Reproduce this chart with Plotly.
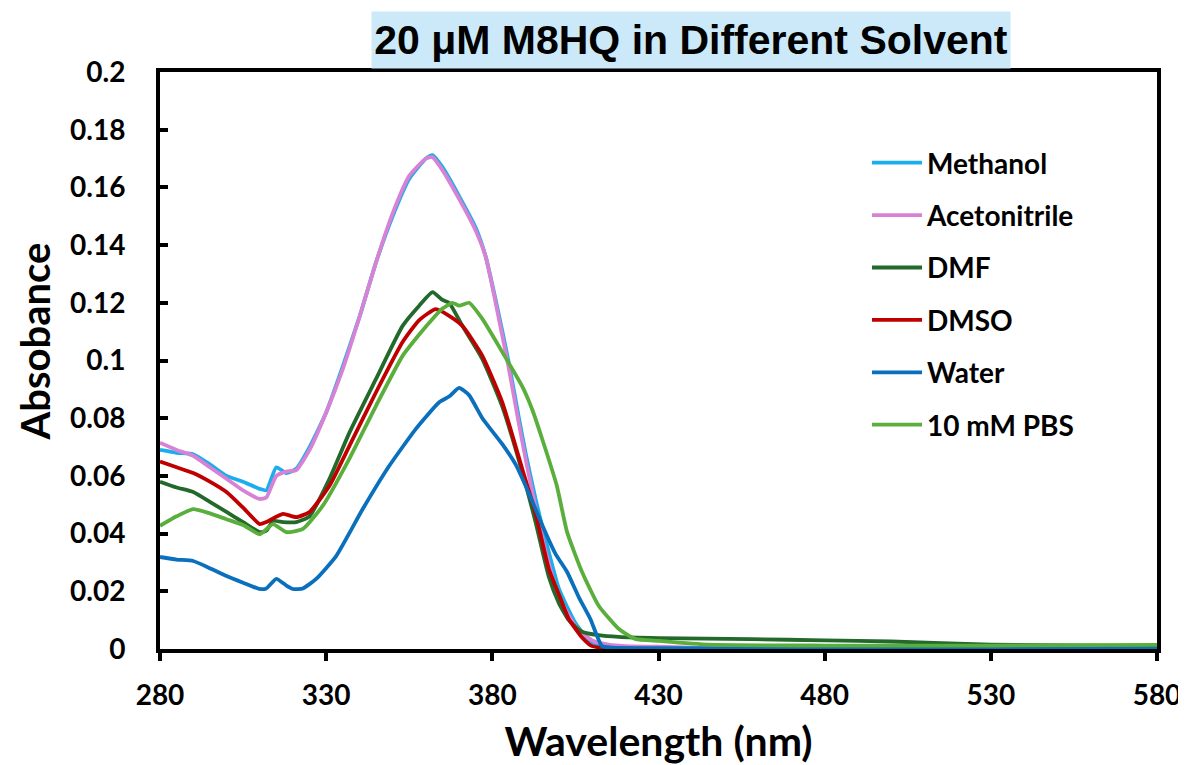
import plotly.graph_objects as go

# ---------------- data ----------------
series_names = ["Methanol", "Acetonitrile", "DMF", "DMSO", "Water", "10 mM PBS"]
series_colors = ["#1CAEEA", "#D882D6", "#23692C", "#C00000", "#0A70BE", "#5AAE3C"]

methanol_nm = [280, 285, 290, 295, 300, 305, 310, 312, 315, 318, 321, 325, 330, 335, 340, 345, 350,
               355, 360, 362, 365, 370, 375, 378, 381, 385, 388, 390, 393, 396, 400, 405, 410, 415, 430, 580]
methanol_abs = [0.069, 0.068, 0.0675, 0.064, 0.060, 0.058, 0.0555, 0.055, 0.063, 0.061, 0.0625, 0.070,
                0.082, 0.098, 0.115, 0.134, 0.150, 0.163, 0.170, 0.1712, 0.167, 0.157, 0.146, 0.136,
                0.121, 0.099, 0.080, 0.068, 0.052, 0.038, 0.021, 0.009, 0.002, 0.0005, 0.0002, 0.0]

acetonitrile_nm = [280, 285, 290, 295, 300, 305, 310, 312, 315, 318, 321, 325, 330, 335, 340, 345, 350,
                   355, 360, 362, 365, 370, 375, 378, 381, 385, 388, 390, 393, 396, 400, 405, 410, 415,
                   420, 430, 440, 450, 580]
acetonitrile_abs = [0.0715, 0.069, 0.067, 0.063, 0.059, 0.055, 0.052, 0.0525, 0.060, 0.0615, 0.062,
                    0.069, 0.082, 0.097, 0.115, 0.134, 0.151, 0.164, 0.170, 0.1705, 0.166, 0.156,
                    0.145, 0.136, 0.120, 0.097, 0.078, 0.066, 0.049, 0.034, 0.018, 0.008, 0.003,
                    0.0015, 0.001, 0.0008, 0.0005, 0.0002, 0.0]

dmf_nm = [280, 285, 290, 295, 300, 305, 310, 312, 314, 317, 321, 325, 331, 337, 345, 353, 358, 362,
          365, 367, 371, 377, 383, 389, 393, 397, 400, 403, 407, 412, 418, 430, 458, 480, 500, 530,
          560, 580]
dmf_abs = [0.058, 0.056, 0.0544, 0.051, 0.0475, 0.044, 0.0405, 0.041, 0.0444, 0.044, 0.044, 0.046,
           0.059, 0.075, 0.0936, 0.112, 0.119, 0.1237, 0.121, 0.120, 0.112, 0.1005, 0.084, 0.0613,
           0.044, 0.025, 0.016, 0.010, 0.006, 0.0048, 0.0042, 0.0038, 0.0034, 0.003, 0.0026,
           0.0015, 0.0012, 0.001]

dmso_nm = [280, 285, 290, 295, 300, 305, 310, 312, 317, 321, 325, 331, 337, 345, 353, 358, 363, 367,
           371, 377, 383, 389, 393, 397, 400, 403, 407, 410, 415, 580]
dmso_abs = [0.065, 0.063, 0.061, 0.058, 0.0544, 0.049, 0.0433, 0.044, 0.0468, 0.0457, 0.0475, 0.0566,
            0.0704, 0.089, 0.1064, 0.114, 0.1178, 0.1155, 0.112, 0.1016, 0.0855, 0.0624, 0.047,
            0.0277, 0.019, 0.0104, 0.004, 0.001, 0.0003, 0.0]

water_nm = [280, 285, 290, 295, 300, 305, 310, 312, 315, 318, 320, 323, 327, 333, 341, 349, 357, 364,
            367, 370, 373, 377, 383, 387, 391, 395, 399, 402.5, 406, 409.5, 413, 416, 430, 580]
water_abs = [0.0319, 0.031, 0.0305, 0.028, 0.0253, 0.023, 0.0208, 0.021, 0.0243, 0.022, 0.0208, 0.021,
             0.0243, 0.0322, 0.0485, 0.0635, 0.0763, 0.0855, 0.0875, 0.0905, 0.088, 0.080, 0.071,
             0.064, 0.054, 0.043, 0.033, 0.0267, 0.018, 0.0104, 0.001, 0.0005, 0.0003, 0.0]

pbs_nm = [280, 285, 290, 295, 300, 305, 310, 314, 318, 323, 329, 337, 345, 353, 358, 362, 365, 368,
          370, 373, 377, 383, 389, 392, 395, 399.4, 402.5, 407, 412, 418, 423, 430, 445, 480, 530, 580]
pbs_abs = [0.0427, 0.046, 0.0485, 0.047, 0.045, 0.043, 0.0398, 0.0433, 0.0405, 0.0416, 0.0497, 0.066,
           0.0843, 0.1016, 0.109, 0.1144, 0.118, 0.120, 0.119, 0.120, 0.1144, 0.1029, 0.091, 0.083,
           0.0728, 0.0566, 0.0405, 0.0267, 0.015, 0.007, 0.0035, 0.0028, 0.0015, 0.0012, 0.0012,
           0.0014]

x_tick_vals = [280, 330, 380, 430, 480, 530, 580]
y_tick_vals = [0, 0.02, 0.04, 0.06, 0.08, 0.1, 0.12, 0.14, 0.16, 0.18, 0.2]
y_tick_text = ["0", "0.02", "0.04", "0.06", "0.08", "0.1", "0.12", "0.14", "0.16", "0.18", "0.2"]

title_text = "20 μM M8HQ in Different Solvent"
x_title = "Wavelength (nm)"
y_title = "Absobance"

# ---------------- figure ----------------
xs = [methanol_nm, acetonitrile_nm, dmf_nm, dmso_nm, water_nm, pbs_nm]
ys = [methanol_abs, acetonitrile_abs, dmf_abs, dmso_abs, water_abs, pbs_abs]

fig = go.Figure()
for name, color, x, y in zip(series_names, series_colors, xs, ys):
    fig.add_trace(go.Scatter(
        x=x, y=y, name=name, mode="lines", legendgroup=name,
        line=dict(color=color, width=3.8, shape="spline", smoothing=0.5),
    ))

font_main = "Lato, 'Open Sans', sans-serif"
OFF = 8  # default body margin of the html page
fig_w, fig_h = 1186 - OFF, 765 - OFF
# plot area in page pixels: left 160, right 1157, top 72, bottom 649
plot_l, plot_r, plot_t, plot_b = 160 - OFF, 1186 - 1157, 72 - OFF, 765 - 649
plot_w = fig_w - plot_l - plot_r
plot_h = fig_h - plot_t - plot_b

def px_x(p):
    return (p - OFF - plot_l) / plot_w

def px_y(p):
    return (fig_h - plot_b - (p - OFF)) / plot_h

fig.update_layout(
    width=fig_w, height=fig_h,
    margin=dict(l=plot_l, r=plot_r, t=plot_t, b=plot_b, autoexpand=False),
    paper_bgcolor="white", plot_bgcolor="white",
    showlegend=True,
    legend=dict(
        x=px_x(867), y=px_y(138), xanchor="left", yanchor="top",
        font=dict(family=font_main, size=28, color="black", weight="bold"),
        bgcolor="rgba(0,0,0,0)", tracegroupgap=13, itemwidth=50,
    ),
    annotations=[
        dict(
            text="<b>" + title_text + "</b>", xref="paper", yref="paper",
            x=px_x(691), y=px_y(40), xanchor="center", yanchor="middle", showarrow=False,
            font=dict(family="'Liberation Sans', Arial, sans-serif", size=41, color="black"),
            bgcolor="#CBE9F8", width=636, height=54,
        ),
        dict(
            text=y_title, xref="paper", yref="paper", textangle=-90,
            x=px_x(34.5), y=px_y(342), xanchor="center", yanchor="middle", showarrow=False,
            font=dict(family=font_main, size=40, color="black", weight="bold"),
        ),
    ],
)

fig.update_xaxes(
    range=[280, 580], tickvals=x_tick_vals, automargin=False,
    showline=True, linecolor="black", linewidth=4, mirror=True,
    ticks="outside", ticklen=8, tickwidth=4, tickcolor="black",
    showgrid=False, zeroline=False, ticklabelstandoff=10,
    tickfont=dict(family=font_main, size=28, color="black", weight="bold"),
    title=dict(text=x_title, standoff=20,
               font=dict(family=font_main, size=41, color="black", weight="bold")),
)
fig.update_yaxes(
    range=[0, 0.2], tickvals=y_tick_vals, ticktext=y_tick_text, automargin=False,
    showline=True, linecolor="black", linewidth=4, mirror=True,
    ticks="inside", ticklen=8, tickwidth=4, tickcolor="black",
    showgrid=False, zeroline=False, ticklabelstandoff=25,
    tickfont=dict(family=font_main, size=28, color="black", weight="bold"),
)

fig.write_html("out.html")
